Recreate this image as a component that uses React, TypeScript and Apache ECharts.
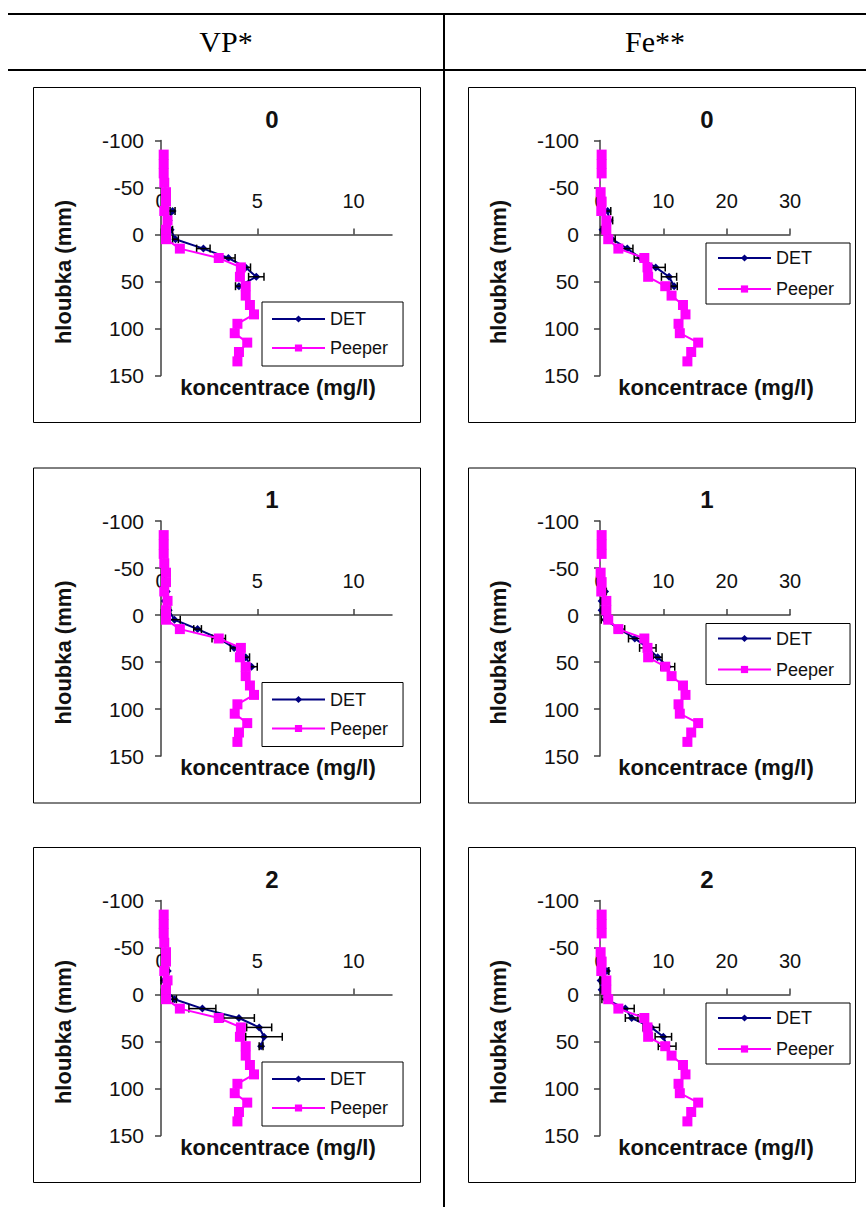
import React, { useEffect, useRef } from "react";
import * as echarts from "echarts";

// ---------- data ----------
const columnHeaders = ["VP*", "Fe**"];
const panelTitles = ["0", "1", "2"];
const seriesNames = ["DET", "Peeper"];
const xAxisName = "koncentrace (mg/l)";
const yAxisName = "hloubka (mm)";

const depthTicks = [-100, -50, 0, 50, 100, 150];
const vpTicks = [0, 5, 10];
const feTicks = [0, 10, 20, 30];

const peeperDepths = [-85, -75, -65, -55, -45, -35, -25, -15, -5, 5, 15, 25, 35, 45, 55, 65, 75, 85, 95, 105, 115, 125, 135];
const peeperVP = [0.14, 0.14, 0.14, 0.17, 0.26, 0.26, 0.17, 0.34, 0.26, 0.26, 0.98, 3.0, 4.15, 4.1, 4.4, 4.4, 4.62, 4.83, 3.97, 3.83, 4.48, 4.05, 3.97];
const peeperFe = [0.26, 0.26, 0.26, -0.2, 0.1, 0.26, 0.2, 1.0, 1.0, 1.3, 2.9, 7.0, 7.5, 7.6, 10.3, 11.3, 13.1, 13.5, 12.4, 12.6, 15.5, 14.4, 13.8];

const detDepths = [-25, -15, -5, 5, 15, 25, 35, 45, 55];
const detVP0 = [0.6, 0.4, 0.5, 0.75, 2.2, 3.5, 4.4, 4.95, 4.05];
const errVP0 = [0.13, 0.1, 0.1, 0.15, 0.35, 0.35, 0.25, 0.4, 0.18];
const detVP1 = [0.3, 0.2, 0.4, 0.7, 1.9, 3.0, 3.8, 4.4, 4.7];
const errVP1 = [0.05, 0.05, 0.1, 0.3, 0.2, 0.35, 0.2, 0.2, 0.3];
const detVP2 = [0.35, 0.15, 0.26, 0.7, 2.15, 4.05, 5.1, 5.35, 5.2];
const errVP2 = [0.05, 0.15, 0.05, 0.1, 0.7, 0.8, 0.65, 0.95, 0.1];
const detFe0 = [1.2, 1.5, 0.4, 1.9, 4.3, 6.4, 8.8, 10.9, 11.7];
const errFe0 = [0.5, 0.5, 0.2, 0.5, 0.9, 1.0, 1.5, 1.2, 0.5];
const detFe1 = [0.8, 0.26, 0.26, 0.8, 3.1, 5.5, 7.55, 9.1, 10.7];
const errFe1 = [0.2, 0.1, 0.1, 0.6, 0.8, 1.0, 1.3, 0.7, 1.1];
const detFe2 = [1.1, 0.1, 0.26, 0.9, 4.0, 5.0, 8.1, 10.0, 10.6];
const errFe2 = [0.3, 0.1, 0.1, 0.6, 1.4, 1.0, 1.3, 1.3, 1.4];

// ---------- layout ----------
const FONT = "'Liberation Sans', Arial, sans-serif";
const rowOffsets = [0, 380.5, 760];
const AXIS_COLOR = "#404040";

type Panel = { col: number; row: number; det: number[]; err: number[]; peeper: number[] };
const panels: Panel[] = [
  { col: 0, row: 0, det: detVP0, err: errVP0, peeper: peeperVP },
  { col: 1, row: 0, det: detFe0, err: errFe0, peeper: peeperFe },
  { col: 0, row: 1, det: detVP1, err: errVP1, peeper: peeperVP },
  { col: 1, row: 1, det: detFe1, err: errFe1, peeper: peeperFe },
  { col: 0, row: 2, det: detVP2, err: errVP2, peeper: peeperVP },
  { col: 1, row: 2, det: detFe2, err: errFe2, peeper: peeperFe },
];

function buildOption() {
  const grid: any[] = [];
  const xAxis: any[] = [];
  const yAxis: any[] = [];
  const series: any[] = [];
  const legend: any[] = [];
  const graphic: any[] = [];

  const headerFont = "30px 'Liberation Serif', 'Times New Roman', serif";
  graphic.push(
    { type: "line", shape: { x1: 8, y1: 14, x2: 866, y2: 14 }, style: { stroke: "#000", lineWidth: 2 } },
    { type: "line", shape: { x1: 8, y1: 70, x2: 866, y2: 70 }, style: { stroke: "#000", lineWidth: 2 } },
    { type: "line", shape: { x1: 444, y1: 14, x2: 444, y2: 1207 }, style: { stroke: "#000", lineWidth: 2 } },
    { type: "text", x: 226, y: 41, style: { text: columnHeaders[0], font: headerFont, fill: "#000", align: "center", verticalAlign: "middle" } },
    { type: "text", x: 655, y: 41, style: { text: columnHeaders[1], font: headerFont, fill: "#000", align: "center", verticalAlign: "middle" } }
  );

  const GRID_TOP = 140.5;
  const GRID_H = 235;
  const zeroOffset = GRID_H * (0 - depthTicks[0]) / (depthTicks[depthTicks.length - 1] - depthTicks[0]);

  panels.forEach((p, i) => {
    const o = rowOffsets[p.row];
    const isVP = p.col === 0;
    const gridLeft = isVP ? 161 : 600;
    const gridWidth = isVP ? 231 : 190;
    const boxX = isVP ? 33.5 : 468.5;

    grid.push({ left: gridLeft, top: GRID_TOP + o, width: gridWidth, height: GRID_H });

    const ticks = isVP ? vpTicks : feTicks;
    xAxis.push({
      type: "value",
      gridIndex: i,
      position: "top",
      offset: -zeroOffset,
      min: 0,
      max: isVP ? 12 : 30,
      interval: isVP ? 5 : 10,
      axisLine: { show: true, onZero: false, lineStyle: { color: AXIS_COLOR, width: 1.5 } },
      axisTick: { show: true, length: 6, inside: false, customValues: ticks, lineStyle: { color: AXIS_COLOR, width: 1.5 } },
      axisLabel: { show: true, margin: 24, customValues: ticks, color: "#111", fontSize: 20, fontFamily: FONT },
      splitLine: { show: false },
    });
    yAxis.push({
      type: "value",
      gridIndex: i,
      inverse: true,
      min: depthTicks[0],
      max: depthTicks[depthTicks.length - 1],
      interval: 50,
      axisLine: { show: true, onZero: false, lineStyle: { color: AXIS_COLOR, width: 1.5 } },
      axisTick: { show: true, length: 6, lineStyle: { color: AXIS_COLOR, width: 1.5 } },
      axisLabel: { show: true, margin: isVP ? 17 : 21, color: "#111", fontSize: 21, fontFamily: FONT },
      splitLine: { show: false },
    });

    series.push({
      type: "line",
      name: seriesNames[0],
      xAxisIndex: i,
      yAxisIndex: i,
      data: detDepths.map((d, k) => [p.det[k], d]),
      symbol: "diamond",
      symbolSize: 8,
      itemStyle: { color: "#000080" },
      lineStyle: { color: "#000080", width: 2 },
      z: 2,
    });
    series.push({
      type: "custom",
      name: "DET error",
      xAxisIndex: i,
      yAxisIndex: i,
      encode: { x: [1, 2], y: 0 },
      data: detDepths.map((d, k) => [d, p.det[k] - p.err[k], p.det[k] + p.err[k]]),
      renderItem: (params: any, api: any) => {
        const d = api.value(0);
        const a = api.coord([api.value(1), d]);
        const b = api.coord([api.value(2), d]);
        const h = 4;
        const st = { stroke: "#000", lineWidth: 1.5 };
        return {
          type: "group",
          children: [
            { type: "line", shape: { x1: a[0], y1: a[1], x2: b[0], y2: b[1] }, style: st },
            { type: "line", shape: { x1: a[0], y1: a[1] - h, x2: a[0], y2: a[1] + h }, style: st },
            { type: "line", shape: { x1: b[0], y1: b[1] - h, x2: b[0], y2: b[1] + h }, style: st },
          ],
        };
      },
      z: 3,
    });
    series.push({
      type: "line",
      name: seriesNames[1],
      xAxisIndex: i,
      yAxisIndex: i,
      data: peeperDepths.map((d, k) => [p.peeper[k], d]),
      symbol: "rect",
      symbolSize: 10,
      itemStyle: { color: "#FF00FF" },
      lineStyle: { color: "#FF00FF", width: 2 },
      z: 4,
    });

    legend.push({
      data: seriesNames,
      orient: "vertical",
      left: isVP ? 262 : 706,
      top: (isVP ? 302 : 243) + o,
      padding: isVP ? [7, 15, 8, 9] : [5, 16, 5, 11],
      itemGap: isVP ? 9 : 11,
      itemWidth: 53,
      itemHeight: 9,
      borderColor: "#000",
      borderWidth: 1,
      selectedMode: false,
      textStyle: { fontSize: 18, fontFamily: FONT, color: "#111", lineHeight: 20 },
    });

    graphic.push(
      { type: "rect", shape: { x: boxX, y: 87.5 + o, width: 387, height: 335 }, style: { fill: "none", stroke: "#000", lineWidth: 1 } },
      { type: "text", x: isVP ? 272 : 707, y: 119 + o, style: { text: panelTitles[p.row], font: `bold 24px ${FONT}`, fill: "#111", align: "center", verticalAlign: "middle" } },
      { type: "text", x: isVP ? 278 : 716, y: 387 + o, style: { text: xAxisName, font: `bold 22px ${FONT}`, fill: "#111", align: "center", verticalAlign: "middle" } },
      { type: "text", x: isVP ? 63 : 498, y: 272 + o, rotation: Math.PI / 2, style: { text: yAxisName, font: `bold 22px ${FONT}`, fill: "#111", align: "center", verticalAlign: "middle" } }
    );
  });

  return {
    animation: false,
    backgroundColor: "#fff",
    grid,
    xAxis,
    yAxis,
    series,
    legend,
    graphic,
  };
}

export default function App() {
  const ref = useRef<HTMLDivElement>(null);
  useEffect(() => {
    if (!ref.current) return;
    const chart = echarts.init(ref.current, undefined, { renderer: "svg" });
    chart.setOption(buildOption() as any);
    return () => chart.dispose();
  }, []);
  return (
    <div
      ref={ref}
      style={{ position: "absolute", left: 0, top: 0, width: 866, height: 1207, background: "#fff" }}
    />
  );
}
